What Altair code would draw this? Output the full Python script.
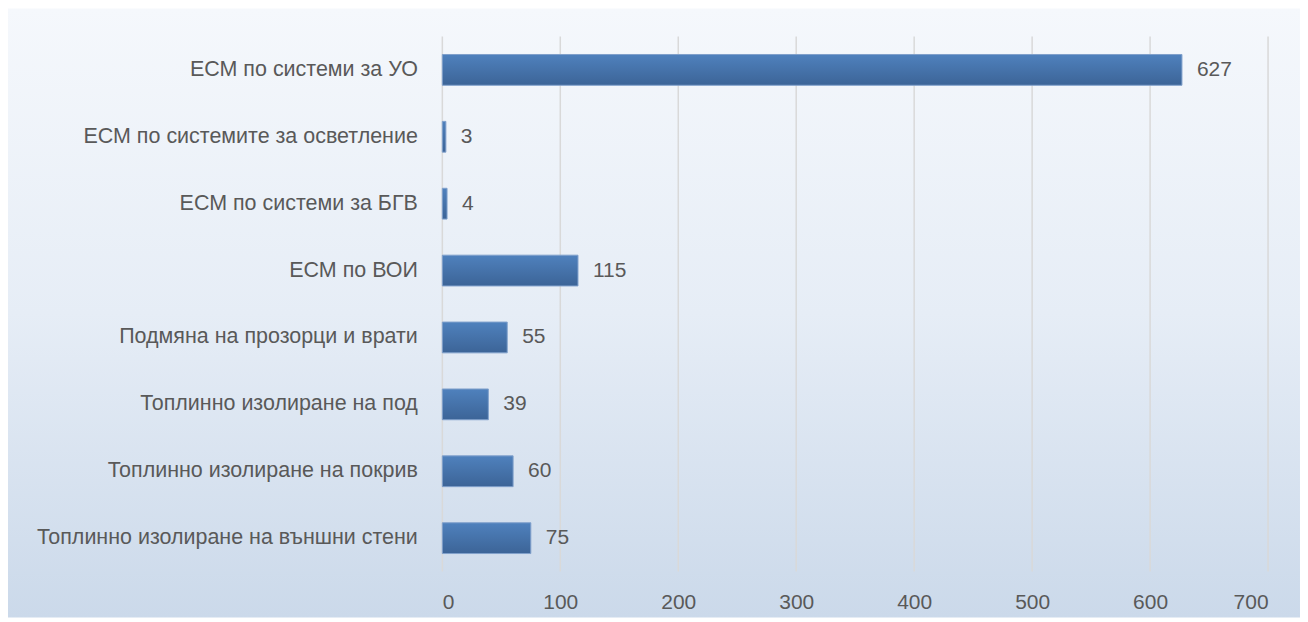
import altair as alt
import pandas as pd

categories = [
    "ЕСМ по системи за УО",
    "ЕСМ по системите за осветление",
    "ЕСМ по системи за БГВ",
    "ЕСМ по ВОИ",
    "Подмяна на прозорци и врати",
    "Топлинно изолиране на под",
    "Топлинно изолиране на покрив",
    "Топлинно изолиране на външни стени",
]
values = [627, 3, 4, 115, 55, 39, 60, 75]
x_ticks = [0, 100, 200, 300, 400, 500, 600, 700]

W, H = 827, 536
PAD_L, PAD_T, PAD_R, PAD_B = 435, 28, 32, 46
FONT = "Liberation Sans"

df = pd.DataFrame({"cat": categories, "val": values})
grid_df = pd.DataFrame({"t": x_ticks})
bg_df = pd.DataFrame({"a": [0]})

xscale = alt.Scale(domain=[0, 700], nice=False, zero=True)
yscale = alt.Scale(domain=categories, paddingInner=0.54, paddingOuter=0.27)

bg = alt.Chart(bg_df).mark_rect(
    color=alt.Gradient(
        gradient="linear", x1=0, y1=0, x2=0, y2=1,
        stops=[alt.GradientStop(color="#f5f8fc", offset=0),
               alt.GradientStop(color="#e6edf6", offset=0.5),
               alt.GradientStop(color="#cbd9ea", offset=1)],
    )
).encode(
    x=alt.value(-PAD_L), x2=alt.value(W + PAD_R),
    y=alt.value(-PAD_T), y2=alt.value(H + PAD_B),
)

grid = alt.Chart(grid_df).mark_rule(color="#d9d9d9", strokeWidth=1.5).encode(
    x=alt.X("t:Q", scale=xscale, axis=alt.Axis(
        values=x_ticks, grid=False, domain=False, ticks=False, title=None,
        labelFont=FONT, labelFontSize=21, labelColor="#595959", labelPadding=20,
        zindex=2,
    )),
    y=alt.value(0), y2=alt.value(H),
)

bars = alt.Chart(df).mark_bar(
    color=alt.Gradient(
        gradient="linear", x1=0, y1=0, x2=0, y2=1,
        stops=[alt.GradientStop(color="#4f81bd", offset=0),
               alt.GradientStop(color="#3c6497", offset=1)],
    ),
    stroke="#7fa0cb", strokeWidth=1,
).encode(
    x=alt.X("val:Q", scale=xscale),
    y=alt.Y("cat:N", scale=yscale, sort=categories, axis=alt.Axis(
        title=None, domain=False, ticks=False, labelFont=FONT, labelFontSize=21.5,
        labelColor="#595959", labelPadding=25, labelLimit=500, zindex=2,
    )),
)

text = alt.Chart(df).mark_text(
    align="left", baseline="middle", dx=15, font=FONT, fontSize=21, color="#595959"
).encode(
    x=alt.X("val:Q", scale=xscale),
    y=alt.Y("cat:N", scale=yscale, sort=categories),
    text="val:Q",
)

chart = alt.layer(bg, grid, bars, text).properties(
    width=W, height=H,
    autosize=alt.AutoSizeParams(type="none"),
    padding={"left": PAD_L, "top": PAD_T, "right": PAD_R, "bottom": PAD_B},
).configure_view(stroke=None).configure(background="white")

chart.save("out.html", embed_options={"renderer": "svg", "actions": False})
